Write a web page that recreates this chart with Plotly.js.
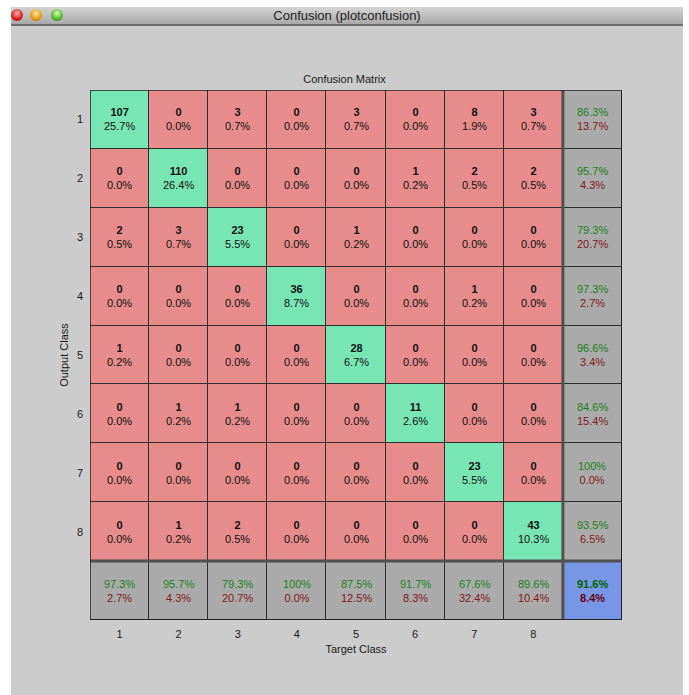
<!DOCTYPE html>
<html>
<head>
<meta charset="utf-8">
<script src="https://cdn.plot.ly/plotly-3.0.1.min.js"></script>
<style>
  html, body { margin:0; padding:0; background:#ffffff; width:689px; height:695px; overflow:hidden; }
  #win { position:absolute; left:11px; top:7px; width:672px; height:688px; background:#cccccc; }
  #bar { position:absolute; left:0; top:0; width:672px; height:17px;
         background:linear-gradient(#d4d4d4, #a9a9a9); border-bottom:2px solid #6e6e6e; }
  #bartitle { position:absolute; left:0; top:0; width:672px; text-align:center;
              font-family:"Liberation Sans", Arial, sans-serif; font-size:13px; line-height:17px; color:#1e1e1e; }
  .dot { position:absolute; top:2px; width:12px; height:12px; border-radius:50%; }
  #chart { position:absolute; left:0; top:0; width:689px; height:695px; }
</style>
</head>
<body>
<div id="win">
  <div id="bar">
    <div class="dot" style="left:0px; background:radial-gradient(circle at 50% 35%, #ffb0b0, #d81c1c 60%, #8a0000);"></div>
    <div class="dot" style="left:19px; background:radial-gradient(circle at 50% 35%, #ffe6a0, #e89a10 60%, #a05a00);"></div>
    <div class="dot" style="left:40px; background:radial-gradient(circle at 50% 35%, #d8ffb0, #4cb82a 60%, #1e6a10);"></div>
    <div id="bartitle">Confusion (plotconfusion)</div>
  </div>
</div>
<div id="chart"></div>
<script>
// Class labels
const classes = ['1','2','3','4','5','6','7','8'];

// Counts: rows = output class, columns = target class
const counts = [
  [107,   0,  3,  0,  3,  0,  8,  3],
  [  0, 110,  0,  0,  0,  1,  2,  2],
  [  2,   3, 23,  0,  1,  0,  0,  0],
  [  0,   0,  0, 36,  0,  0,  1,  0],
  [  1,   0,  0,  0, 28,  0,  0,  0],
  [  0,   1,  1,  0,  0, 11,  0,  0],
  [  0,   0,  0,  0,  0,  0, 23,  0],
  [  0,   1,  2,  0,  0,  0,  0, 43]
];

// Percentage of all samples in each cell
const cellPct = [
  [25.7,  0.0, 0.7, 0.0, 0.7, 0.0, 1.9,  0.7],
  [ 0.0, 26.4, 0.0, 0.0, 0.0, 0.2, 0.5,  0.5],
  [ 0.5,  0.7, 5.5, 0.0, 0.2, 0.0, 0.0,  0.0],
  [ 0.0,  0.0, 0.0, 8.7, 0.0, 0.0, 0.2,  0.0],
  [ 0.2,  0.0, 0.0, 0.0, 6.7, 0.0, 0.0,  0.0],
  [ 0.0,  0.2, 0.2, 0.0, 0.0, 2.6, 0.0,  0.0],
  [ 0.0,  0.0, 0.0, 0.0, 0.0, 0.0, 5.5,  0.0],
  [ 0.0,  0.2, 0.5, 0.0, 0.0, 0.0, 0.0, 10.3]
];

// Row summaries (per output class)
const rowCorrect = [86.3, 95.7, 79.3, 97.3, 96.6, 84.6, 100, 93.5];
const rowWrong   = [13.7,  4.3, 20.7,  2.7,  3.4, 15.4, 0.0,  6.5];

// Column summaries (per target class)
const colCorrect = [97.3, 95.7, 79.3, 100, 87.5, 91.7, 67.6, 89.6];
const colWrong   = [ 2.7,  4.3, 20.7, 0.0, 12.5,  8.3, 32.4, 10.4];

// Overall
const overallCorrect = 91.6;
const overallWrong = 8.4;

const RED = '#e68c8c', GREEN = '#78e6b4', GRAY = '#aaaaaa', BLUE = '#7896e6';
const TXT_G = '#1e7d1e', TXT_R = '#7d1a1a';
const FONT = '"Liberation Sans", Arial, Helvetica, sans-serif';

function fmt(v) { return (v === 100 ? '100' : v.toFixed(1)) + '%'; }

const n = classes.length;
const idx = [];
for (let i = 1; i <= n + 1; i++) idx.push(i);

// cell category codes: 0 wrong, 1 correct, 2 summary, 3 overall
const z = [];
for (let r = 0; r <= n; r++) {
  const row = [];
  for (let c = 0; c <= n; c++) {
    if (r === n && c === n) row.push(3);
    else if (r === n || c === n) row.push(2);
    else if (r === c) row.push(1);
    else row.push(0);
  }
  z.push(row);
}

const annotations = [];
for (let r = 0; r < n; r++) {
  for (let c = 0; c < n; c++) {
    annotations.push({
      x: c + 1, y: r + 1, xref: 'x', yref: 'y', showarrow: false,
      text: '<b>' + counts[r][c] + '</b><br>' + fmt(cellPct[r][c]),
      font: { family: FONT, size: 11, color: '#111111' }
    });
  }
  annotations.push({
    x: n + 1, y: r + 1, xref: 'x', yref: 'y', showarrow: false,
    text: '<span style="color:' + TXT_G + '">' + fmt(rowCorrect[r]) + '</span><br>' +
          '<span style="color:' + TXT_R + '">' + fmt(rowWrong[r]) + '</span>',
    font: { family: FONT, size: 11 }
  });
}
for (let c = 0; c < n; c++) {
  annotations.push({
    x: c + 1, y: n + 1, xref: 'x', yref: 'y', showarrow: false,
    text: '<span style="color:' + TXT_G + '">' + fmt(colCorrect[c]) + '</span><br>' +
          '<span style="color:' + TXT_R + '">' + fmt(colWrong[c]) + '</span>',
    font: { family: FONT, size: 11 }
  });
}
annotations.push({
  x: n + 1, y: n + 1, xref: 'x', yref: 'y', showarrow: false,
  text: '<b><span style="color:#006400">' + fmt(overallCorrect) + '</span></b><br>' +
        '<b><span style="color:#6a0010">' + fmt(overallWrong) + '</span></b>',
  font: { family: FONT, size: 11 }
});

const trace = {
  type: 'heatmap', x: idx, y: idx, z: z,
  zmin: 0, zmax: 3,
  colorscale: [[0, RED], [0.1667, RED], [0.1667, GREEN], [0.5, GREEN],
               [0.5, GRAY], [0.8333, GRAY], [0.8333, BLUE], [1, BLUE]],
  showscale: false, xgap: 1, ygap: 1, hoverinfo: 'skip'
};

const layout = {
  width: 689, height: 695,
  margin: { l: 90, r: 67, t: 90, b: 75 },
  paper_bgcolor: 'rgba(0,0,0,0)',
  plot_bgcolor: '#2e2e2e',
  showlegend: false,
  font: { family: FONT, size: 11, color: '#1a1a1a' },
  title: { text: 'Confusion Matrix', x: 0.5, xanchor: 'center',
           yref: 'paper', y: 1, yanchor: 'bottom', pad: { b: 7 },
           font: { family: FONT, size: 11, color: '#1a1a1a' } },
  xaxis: {
    range: [0.5, n + 1.5], tickvals: idx.slice(0, n), ticktext: classes,
    showgrid: false, zeroline: false, ticks: '', ticklabelstandoff: 6,
    showline: false, fixedrange: true,
    title: { text: 'Target Class', standoff: 6, font: { family: FONT, size: 11, color: '#1a1a1a' } }
  },
  yaxis: {
    range: [n + 1.5, 0.5], tickvals: idx.slice(0, n), ticktext: classes,
    showgrid: false, zeroline: false, ticks: '', ticklabelstandoff: 6,
    showline: false, fixedrange: true,
    title: { text: 'Output Class', standoff: 6, font: { family: FONT, size: 11, color: '#1a1a1a' } }
  },
  shapes: [
    { type: 'line', xref: 'x', yref: 'y', x0: n + 0.5, x1: n + 0.5, y0: 0.5, y1: n + 1.5,
      line: { color: '#505050', width: 3 } },
    { type: 'line', xref: 'x', yref: 'y', x0: 0.5, x1: n + 1.5, y0: n + 0.5, y1: n + 0.5,
      line: { color: '#505050', width: 3 } },
    { type: 'rect', xref: 'x', yref: 'y', x0: 0.5, x1: n + 1.5, y0: 0.5, y1: n + 1.5,
      line: { color: '#1e1e1e', width: 1.5 } }
  ],
  annotations: annotations
};

Plotly.newPlot('chart', [trace], layout, { staticPlot: true, displayModeBar: false });
</script>
</body>
</html>
